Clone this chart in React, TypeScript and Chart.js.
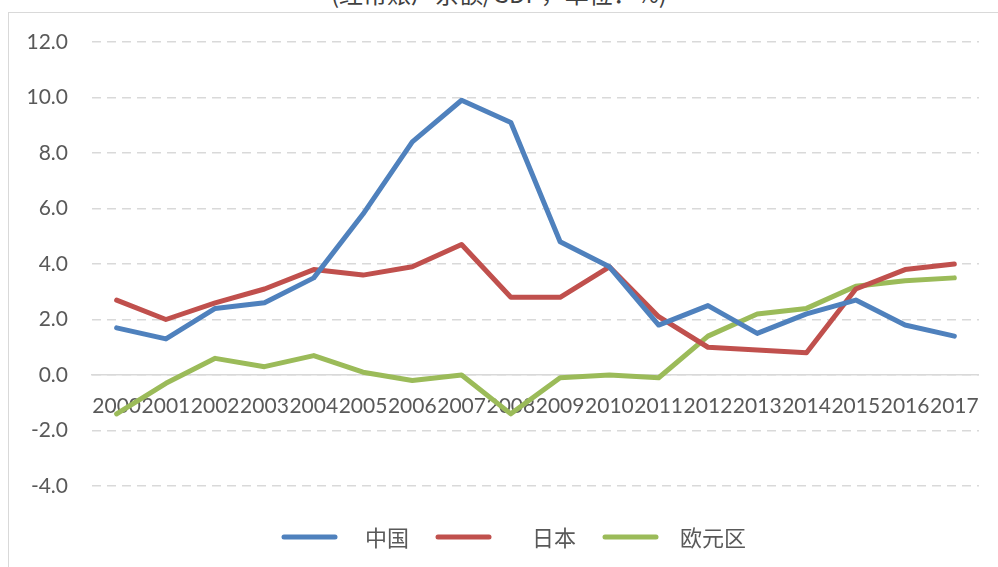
import React, { useEffect, useRef } from "react";
import { Chart, registerables } from "chart.js";

Chart.register(...registerables);

const years = ["2000","2001","2002","2003","2004","2005","2006","2007","2008","2009","2010","2011","2012","2013","2014","2015","2016","2017"];
const seriesNames = ["中国", "日本", "欧元区"];
const china = [1.7, 1.3, 2.4, 2.6, 3.5, 5.8, 8.4, 9.9, 9.1, 4.8, 3.9, 1.8, 2.5, 1.5, 2.2, 2.7, 1.8, 1.4];
const japan = [2.7, 2.0, 2.6, 3.1, 3.8, 3.6, 3.9, 4.7, 2.8, 2.8, 3.9, 2.1, 1.0, 0.9, 0.8, 3.1, 3.8, 4.0];
const euro = [-1.4, -0.3, 0.6, 0.3, 0.7, 0.1, -0.2, 0.0, -1.4, -0.1, 0.0, -0.1, 1.4, 2.2, 2.4, 3.2, 3.4, 3.5];
const colors = ["#4F81BD", "#C0504D", "#9BBB59"];
const titleText = "(经常账户余额/GDP，单位：%)";

const legendLayout = [
  { line: 282, text: 365 },
  { line: 436, text: 532 },
  { line: 603, text: 680 },
];

const customLegend = {
  id: "customLegend",
  afterDraw(chart: any) {
    const ctx = chart.ctx;
    ctx.save();
    const y = 537;
    chart.data.datasets.forEach((ds: any, i: number) => {
      const pos = legendLayout[i];
      ctx.strokeStyle = ds.borderColor;
      ctx.lineWidth = 5;
      ctx.lineCap = "round";
      ctx.beginPath();
      ctx.moveTo(pos.line + 2, y);
      ctx.lineTo(pos.line + 53, y);
      ctx.stroke();
      ctx.fillStyle = "#595959";
      ctx.font = "22px 'Noto Sans CJK SC'";
      ctx.textBaseline = "middle";
      ctx.textAlign = "left";
      ctx.fillText(ds.label, pos.text, y + 1);
    });
    ctx.restore();
  },
};

export default function App() {
  const ref = useRef<HTMLCanvasElement>(null);
  useEffect(() => {
    if (!ref.current) return;
    const tickFont = { family: "Lato", size: 21 };
    const chart = new Chart(ref.current, {
      type: "line",
      data: {
        labels: years,
        datasets: [china, japan, euro].map((d, i) => ({
          label: seriesNames[i],
          data: d,
          borderColor: colors[i],
          backgroundColor: colors[i],
          borderWidth: 5,
          pointRadius: 0,
          tension: 0,
          borderCapStyle: "round" as const,
          borderJoinStyle: "round" as const,
        })),
      },
      options: {
        responsive: false,
        animation: false,
        devicePixelRatio: 1,
        layout: { padding: { left: 0, right: 11, top: 42, bottom: 81 } },
        plugins: { legend: { display: false }, title: { display: false }, tooltip: { enabled: false } },
        scales: {
          x: {
            type: "category",
            offset: true,
            position: { y: 0 } as any,
            grid: { display: false, drawTicks: false },
            border: { display: true, color: "#d9d9d9", width: 1.5 },
            ticks: { autoSkip: false, maxRotation: 0, minRotation: 0, color: "#595959", font: tickFont, padding: 19 },
          },
          y: {
            min: -4,
            max: 12,
            afterFit(scale: any) { scale.width = 92; },
            grid: { color: "#d9d9d9", lineWidth: 1.5, drawTicks: false },
            border: { display: false, dash: [9, 6] },
            ticks: { stepSize: 2, color: "#595959", font: tickFont, padding: 24, callback: (v: any) => Number(v).toFixed(1) },
          },
        },
      },
      plugins: [customLegend],
    });
    return () => chart.destroy();
  }, []);
  return (
    <div style={{ position: "relative", width: 998, height: 567, overflow: "hidden" }}>
      <style>{"html,body{margin:0;padding:0;overflow:hidden;}"}</style>
      <div style={{ position: "absolute", left: 0, top: -19, width: 998, textAlign: "center", fontFamily: "'Noto Sans CJK SC'", fontSize: 24, lineHeight: "24px", color: "#404040" }}>{titleText}</div>
      <div style={{ position: "absolute", left: 8, top: 12, width: 990, height: 560, borderLeft: "1px solid #d9d9d9", borderTop: "1px solid #d9d9d9" }} />
      <canvas ref={ref} width={998} height={567} style={{ position: "absolute", left: 0, top: 0, width: 998, height: 567 }} />
    </div>
  );
}
